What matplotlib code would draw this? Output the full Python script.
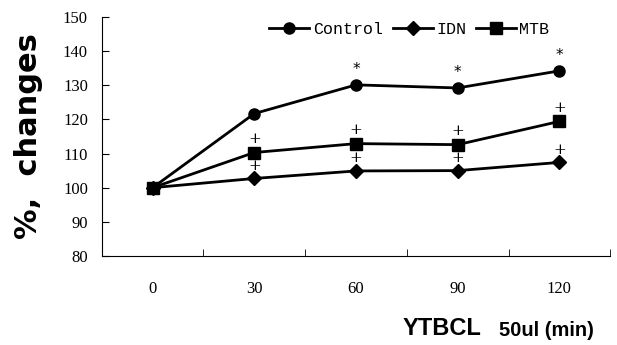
import numpy as np
import matplotlib.pyplot as plt

# time points (min) and % changes
times = ['0', '30', '60', '90', '120']
control = [100, 121.7, 130.1, 129.2, 134.2]
idn = [100, 102.7, 104.9, 105.0, 107.4]
mtb = [100, 110.3, 112.9, 112.6, 119.4]

# significance marks
control_marks = ['', '', '*', '*', '*']
idn_marks = ['', '+', '+', '+', '+']
mtb_marks = ['', '+', '+', '+', '+']

fig = plt.figure(figsize=(6.17, 3.45), dpi=100)
ax = fig.add_axes([0.165, 0.258, 0.824, 0.693])

x = np.arange(len(times))
ax.plot(x, control, '-o', color='black', lw=2, ms=8, label='Control')
ax.plot(x, idn, '-D', color='black', lw=2, ms=7, label='IDN')
ax.plot(x, mtb, '-s', color='black', lw=2, ms=8, label='MTB')

for xi, v, m in zip(x, control, control_marks):
    if m:
        ax.text(xi, v + 2.2, m, ha='center', va='bottom', fontsize=11, family='DejaVu Sans')
for xi, v, m in zip(x, idn, idn_marks):
    if m:
        ax.text(xi, v + 1.6, m, ha='center', va='bottom', fontsize=11, family='DejaVu Serif')
for xi, v, m in zip(x, mtb, mtb_marks):
    if m:
        ax.text(xi, v + 1.8, m, ha='center', va='bottom', fontsize=11, family='DejaVu Serif')

ax.set_xlim(-0.5, len(times) - 0.5)
ax.set_ylim(80, 150)
ax.set_yticks(np.arange(80, 151, 10))
ax.set_xticks(x)
ax.set_xticklabels(times)
ax.set_xticks(np.arange(-0.5, len(times), 1), minor=True)
ax.tick_params(axis='x', which='major', length=0, pad=18)
ax.tick_params(axis='x', which='minor', direction='in', length=5)
ax.tick_params(axis='y', direction='in', length=5, pad=10)
for lab in ax.get_xticklabels() + ax.get_yticklabels():
    lab.set_family('Liberation Serif')
    lab.set_fontsize(12)

ax.spines['top'].set_visible(False)
ax.spines['right'].set_visible(False)

ax.set_ylabel('%,  changes', fontsize=22, fontweight='heavy', family='DejaVu Sans', labelpad=14)

fig.text(0.652, 0.047, 'YTBCL', fontsize=17, fontweight='bold', family='Liberation Sans', ha='left', va='center')
fig.text(0.808, 0.043, '50ul (min)', fontsize=14.5, fontweight='bold', family='Liberation Sans', ha='left', va='center')

ax.legend(loc='upper right', bbox_to_anchor=(0.9, 1.02), ncol=3, frameon=False,
          prop={'family': 'Liberation Mono', 'size': 12}, handlelength=2.4,
          handletextpad=0.2, columnspacing=0.6, borderaxespad=0.2)

fig.savefig('out.png', dpi=100)
